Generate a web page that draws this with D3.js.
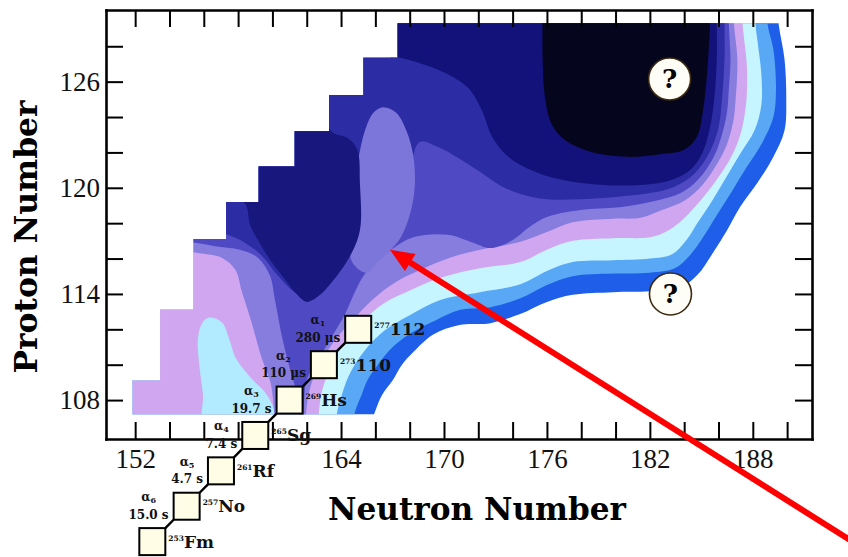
<!DOCTYPE html>
<html>
<head>
<meta charset="utf-8">
<title>Superheavy nuclei map</title>
<script src="https://cdn.jsdelivr.net/npm/d3@7"></script>
<style>
  body { margin: 0; background: #fff; }
  svg { display: block; }
</style>
</head>
<body>
<svg id="chart" width="848" height="557"></svg>
<script>
// ---- values, all as [neutron number, proton number] ----

// calculated region: left edge of each proton row (staircase)
const maskZ = [107.2, 109.1, 113.1, 117.1, 119.2, 121.2, 123.2, 125.25, 127.35, 129.3];
const maskMinN = [151.85, 153.45, 155.4, 157.3, 159.2, 161.3, 163.3, 165.3, 167.3];

// contour edges, outermost first (bottom -> top)
const royalEdge = [[165.7,106.5],[166.0,107.4],[166.4,108.3],[167.0,109.1],[167.55,110.0],[168.2,110.7],[169.35,111.7],[170.9,112.25],[172.7,112.35],[174.4,112.85],[176.0,113.55],[177.5,113.95],[179.85,114.1],[182.0,114.15],[183.75,114.35],[184.75,115.05],[185.7,116.35],[186.5,117.6],[187.25,118.9],[188.25,120.25],[189.2,121.75],[189.85,123.25],[189.95,125.0],[189.85,127.25],[189.5,129.3],[189.4,131]];
const skyEdge = [[164.6,106.5],[164.85,107.45],[165.2,108.3],[165.55,109.15],[166.15,110.0],[166.85,110.85],[168.0,111.75],[169.5,112.5],[170.95,113.1],[172.7,113.25],[174.45,113.75],[176.0,114.5],[177.5,115.0],[179.85,115.15],[182.0,115.2],[183.45,115.45],[184.35,116.2],[185.1,117.2],[185.9,118.45],[186.75,119.75],[187.6,121.1],[188.55,122.55],[189.2,124.0],[189.35,125.55],[189.2,127.8],[188.85,129.3],[188.8,131]];
const cyanEdge = [[163.65,106.5],[163.8,107.45],[164.05,108.3],[164.35,109.15],[164.8,110.0],[165.5,110.95],[166.55,111.95],[168.0,112.8],[169.75,113.65],[172.1,114.1],[174.45,114.55],[176.0,115.3],[177.5,115.8],[179.85,115.9],[182.0,116.0],[183.3,116.25],[184.1,117.0],[184.8,118.05],[185.65,119.3],[186.45,120.6],[187.25,121.9],[188.1,123.25],[188.5,124.7],[188.5,126.4],[188.3,128.1],[188.15,129.3],[188.1,131]];
const pinkEdge = [[162.65,106.5],[162.75,107.7],[162.9,108.55],[163.2,109.4],[163.65,110.4],[164.35,111.4],[165.2,112.4],[166.55,113.5],[168.0,114.2],[169.75,114.9],[172.1,115.45],[174.45,115.8],[176.0,116.5],[177.5,117.0],[179.85,117.15],[182.0,117.2],[182.9,117.5],[183.75,118.05],[184.75,119.05],[185.85,120.4],[186.75,121.75],[187.3,123.1],[187.55,124.3],[187.65,125.25],[187.65,126.95],[187.5,128.35],[187.4,129.3],[187.3,131]];

// light pocket at low N
const cyanPocket = [[156.25,112.65],[157.05,112.4],[157.5,111.4],[157.85,110.4],[158.7,109.3],[159.6,108.4],[160.1,107.45],[160.2,106.5],[156.05,106.5],[155.95,108.3],[155.75,109.85],[155.65,111.4],[155.85,112.25]];

// lavender band: left side (bottom -> top) and right side (top -> bottom)
const lavenderLeft = [[160.15,106.5],[159.9,108.95],[159.35,110.45],[158.75,112.5],[158.2,114.2],[157.85,115.35],[157.05,116.05],[155.75,116.3],[154.6,116.45]];
const lavenderEdge = [[186.9,131],[186.9,129.3],[187.1,127.25],[187.0,125.0],[186.85,123.7],[186.45,122.35],[185.85,121.25],[185.05,120.15],[184.05,119.3],[182.6,118.7],[181.45,118.3],[179.85,118.25],[177.5,118.05],[176.0,117.5],[174.45,116.95],[172.1,116.5],[170.35,116.05],[168.6,115.35],[167.15,114.65],[165.8,113.65],[164.65,112.5],[163.65,111.4],[162.9,110.25],[162.35,109.15],[162.05,108.0],[161.9,106.5]];

// violet band
const violetLeft = [[161.65,106.5],[161.6,107.85],[161.2,109.15],[160.6,111.4],[160.15,113.65],[159.85,115.05],[159.15,116.05],[158.1,116.5],[156.65,116.7],[155.5,116.9],[154.6,116.95]];
const violetEdge = [[186.6,131],[186.6,129.3],[186.7,127.25],[186.6,125.55],[186.5,124.3],[186.2,123.0],[185.7,121.7],[184.8,120.45],[183.8,119.7],[182.3,119.25],[180.25,118.9],[177.95,118.75],[176.0,118.35],[175.0,117.8],[174.0,117.05],[172.7,116.6],[171.7,116.9],[170.2,117.35],[168.2,117.2],[166.85,116.45],[166.05,115.8],[165.4,115.15],[164.8,114.1],[164.25,112.9],[163.35,111.4],[162.65,110.25],[162.0,109.15],[161.85,108.0],[161.8,106.5]];

// dark blue band (runs under the ridge and along the left of the deformed valley)
const darkBlueEdge = [[186.35,131],[186.35,129.3],[186.35,127.25],[186.2,125.0],[186.0,123.4],[185.45,121.95],[184.6,120.8],[183.4,120.05],[182.0,119.7],[179.7,119.45],[177.95,119.35],[176.0,119.35],[174.45,119.65],[173.25,120.15],[172.1,120.9],[170.8,121.7],[169.65,122.3],[168.6,122.6],[168.0,121.0],[167.45,118.75],[166.25,117.05],[164.4,116.35],[163.35,114.8],[162.3,113.75],[161.3,114.1],[160.3,115.05],[159.4,116.15],[158.4,116.9],[157.4,117.35],[156.35,117.6],[155.2,117.85]];

// lighter ridge near N=166
const ridge = [[166.45,124.55],[167.2,124.25],[167.8,123.25],[168.2,121.85],[168.3,120.15],[168.0,118.45],[167.45,117.15],[166.85,116.45],[166.15,115.8],[165.45,115.2],[164.65,115.8],[164.5,117.35],[164.75,119.6],[165.0,121.55],[165.4,123.25],[165.9,124.25]];

// deformed valley near N=162
const deformedValley = [[162.0,113.55],[161.35,114.05],[160.75,114.8],[159.95,115.8],[159.25,116.9],[158.7,117.9],[158.45,119.05],[157.8,119.6],[158.1,122.15],[161.6,123.7],[163.1,123.5],[163.55,123.1],[164.4,122.8],[164.95,122.15],[165.1,120.25],[165.1,117.6],[164.5,116.1],[163.45,114.65],[162.65,113.85]];

// spherical valley: navy rim and black core
const navyEdge = [[166.85,131],[166.85,127.4],[167.45,127.35],[169.95,126.55],[171.4,125.65],[172.2,124.4],[172.8,122.9],[173.75,121.75],[175.6,120.8],[178.7,120.2],[182.0,120.2],[183.3,120.45],[184.35,121.0],[185.05,121.95],[185.5,123.4],[185.75,125.0],[185.9,127.25],[185.9,129.3],[185.9,131]];
const blackEdge = [[175.75,131],[175.75,127.25],[175.9,125.0],[176.3,123.55],[177.05,122.7],[178.5,122.05],[180.65,121.75],[182.6,121.9],[184.0,122.15],[184.75,122.9],[185.1,124.4],[185.35,126.65],[185.5,129.3],[185.5,131]];

// decay chain of 277112
const chainMass = [277, 273, 269, 265, 261, 257, 253];
const chainSymbol = ["112", "110", "Hs", "Sg", "Rf", "No", "Fm"];
const chainN = [165, 163, 161, 159, 157, 155, 153];
const chainZ = [112, 110, 108, 106, 104, 102, 100];
const decayTimes = ["280 μs", "110 μs", "19.7 s", "7.4 s", "4.7 s", "15.0 s"];

// question marks and the red arrow
const questionMarks = [[183.15, 126.15], [183.2, 114.0]];
const arrowTail = [194.3, 99.7];
const arrowTip = [166.85, 116.5];

// axes
const xTicks = d3.range(152, 191, 2);
const yTicks = d3.range(108, 129, 2);
const xLabels = [152, 164, 170, 176, 182, 188];
const yLabels = [108, 114, 120, 126];

// ---- drawing ----
const svg = d3.select("#chart");
const x = d3.scaleLinear().domain([150.3, 191.45]).range([106, 812]);
const y = d3.scaleLinear().domain([105.8, 130.05]).range([439, 10]);

const serifBold = "'DejaVu Serif', serif";
const px = d => x(d[0]), py = d => y(d[1]);
const smooth = d3.line().x(px).y(py).curve(d3.curveCatmullRom.alpha(0.5));
const smoothClosed = d3.line().x(px).y(py).curve(d3.curveCatmullRomClosed.alpha(0.5));
const straight = d3.line().x(px).y(py);

// joins smooth and straight pieces into one closed outline
function regionPath(parts) {
  return parts.map((p, i) => {
    const s = p.curved ? smooth(p.pts) : straight(p.pts);
    return i ? "L" + s.slice(1) : s;
  }).join("") + "Z";
}

const farN = x.domain()[0] - 3, farTop = y.domain()[1] + 3, farBottom = y.domain()[0] - 2;
const leftClose = { pts: [[farN, farTop], [farN, farBottom]], curved: false };
const topClose = edge => ({ pts: [[farN, farTop], [edge[0][0], farTop]], curved: false });

const layers = [
  { color: "#1f5ee8", d: regionPath([{ pts: royalEdge, curved: true }, leftClose]) },
  { color: "#58a8f6", d: regionPath([{ pts: skyEdge, curved: true }, leftClose]) },
  { color: "#c6f5ff", d: regionPath([{ pts: cyanEdge, curved: true }, leftClose]) },
  { color: "#cfa6ef", d: regionPath([{ pts: pinkEdge, curved: true }, leftClose]) },
  { color: "#b2eaff", d: smoothClosed(cyanPocket) },
  { color: "#877ddf", d: regionPath([{ pts: lavenderLeft, curved: true }, topClose(lavenderEdge), { pts: lavenderEdge, curved: true }]) },
  { color: "#4f4ac4", d: regionPath([{ pts: violetLeft, curved: true }, topClose(violetEdge), { pts: violetEdge, curved: true }]) },
  { color: "#2c2ca4", d: regionPath([{ pts: darkBlueEdge, curved: true }, topClose(darkBlueEdge)]) },
  { color: "#7d76da", d: smoothClosed(ridge) },
  { color: "#17177e", d: smoothClosed(deformedValley) },
  { color: "#12127a", d: regionPath([{ pts: navyEdge, curved: true }]) },
  { color: "#05051d", d: regionPath([{ pts: blackEdge, curved: true }]) }
];

// staircase outline of the calculated nuclei
const maskPts = [[x.domain()[1], maskZ[0]]];
maskMinN.forEach((n, i) => maskPts.push([n, maskZ[i]], [n, maskZ[i + 1]]));
maskPts.push([x.domain()[1], maskZ[maskZ.length - 1]]);

svg.append("clipPath").attr("id", "calc-region")
  .append("path").attr("d", straight(maskPts) + "Z");

const map = svg.append("g").attr("clip-path", "url(#calc-region)");
layers.forEach(l => map.append("path").attr("d", l.d).attr("fill", l.color));

// frame with inward ticks
function styleAxis(g) {
  g.select(".domain").attr("stroke", "#000").attr("stroke-width", 2.6).attr("stroke-linecap", "square");
  g.selectAll(".tick line").attr("stroke", "#000").attr("stroke-width", 2);
  g.selectAll(".tick text").attr("fill", "#111");
}
const tickFont = g => g.attr("font-family", "'Liberation Serif', 'Times New Roman', serif").attr("font-size", 27);

svg.append("g").attr("transform", `translate(0,${y.range()[0]})`)
  .call(d3.axisBottom(x).tickValues(xTicks).tickSize(-17).tickSizeOuter(0).tickPadding(10)
    .tickFormat(d => xLabels.includes(d) ? d : ""))
  .call(tickFont).call(styleAxis);
svg.append("g").attr("transform", `translate(0,${y.range()[1]})`)
  .call(d3.axisTop(x).tickValues(xTicks).tickSize(-17).tickSizeOuter(0).tickFormat(""))
  .call(styleAxis);
svg.append("g").attr("transform", `translate(${x.range()[0]},0)`)
  .call(d3.axisLeft(y).tickValues(yTicks).tickSize(-17).tickSizeOuter(0).tickPadding(6)
    .tickFormat(d => yLabels.includes(d) ? d : ""))
  .call(tickFont).call(styleAxis);
svg.append("g").attr("transform", `translate(${x.range()[1]},0)`)
  .call(d3.axisRight(y).tickValues(yTicks).tickSize(-17).tickSizeOuter(0).tickFormat(""))
  .call(styleAxis);

// axis titles
svg.append("text")
  .attr("x", 477).attr("y", 520)
  .attr("text-anchor", "middle")
  .attr("font-family", serifBold).attr("font-weight", "bold").attr("font-size", 31)
  .attr("textLength", 298).attr("lengthAdjust", "spacingAndGlyphs")
  .text("Neutron Number");
svg.append("text")
  .attr("transform", "translate(37,237) rotate(-90)")
  .attr("text-anchor", "middle")
  .attr("font-family", serifBold).attr("font-weight", "bold").attr("font-size", 32)
  .attr("textLength", 273).attr("lengthAdjust", "spacingAndGlyphs")
  .text("Proton Number");

// decay chain
const boxW = 26, boxH = 27;
const chain = chainN.map((n, i) => ({ cx: x(n), cy: y(chainZ[i]), mass: chainMass[i], sym: chainSymbol[i] }));

for (let i = 0; i < chain.length - 1; i++) {
  const a = chain[i], b = chain[i + 1];
  svg.append("line")
    .attr("x1", a.cx - boxW / 2).attr("y1", a.cy + boxH / 2)
    .attr("x2", b.cx + boxW / 2).attr("y2", b.cy - boxH / 2)
    .attr("stroke", "#000").attr("stroke-width", 2.4);
}

chain.forEach(c => {
  svg.append("rect")
    .attr("x", c.cx - boxW / 2).attr("y", c.cy - boxH / 2)
    .attr("width", boxW).attr("height", boxH)
    .attr("fill", "#fffde6").attr("stroke", "#000").attr("stroke-width", 2);

  const lbl = svg.append("text")
    .attr("x", c.cx + boxW / 2 + 3).attr("y", c.cy + 6)
    .attr("font-family", serifBold).attr("font-weight", "bold").attr("fill", "#111");
  lbl.append("tspan").attr("font-size", 7.5).attr("dy", -7).text(c.mass);
  lbl.append("tspan").attr("font-size", 17).attr("dy", 7).text(c.sym);
});

decayTimes.forEach((t, i) => {
  const c = chain[i];
  const right = c.cx - boxW / 2 - 5;
  const time = svg.append("text")
    .attr("x", right).attr("y", c.cy + boxH / 2 - 1)
    .attr("text-anchor", "end")
    .attr("font-family", serifBold).attr("font-weight", "bold").attr("font-size", 12)
    .attr("fill", "#111")
    .text(t);
  const w = time.node().getComputedTextLength();
  const alpha = svg.append("text")
    .attr("x", right - w / 2).attr("y", c.cy - 5)
    .attr("text-anchor", "middle")
    .attr("font-family", serifBold).attr("font-weight", "bold").attr("font-size", 12)
    .attr("fill", "#111");
  alpha.append("tspan").text("α");
  alpha.append("tspan").attr("font-size", 8).attr("dy", 2).text(i + 1);
});

// question marks
questionMarks.forEach(([n, z]) => {
  svg.append("circle")
    .attr("cx", x(n)).attr("cy", y(z)).attr("r", 21)
    .attr("fill", "#fffef6").attr("stroke", "#3b2a12").attr("stroke-width", 1.6);
  svg.append("text")
    .attr("x", x(n)).attr("y", y(z) + 9)
    .attr("text-anchor", "middle")
    .attr("font-family", serifBold).attr("font-weight", "bold").attr("font-size", 26)
    .text("?");
});

// red arrow
const p0 = [x(arrowTail[0]), y(arrowTail[1])];
const p1 = [x(arrowTip[0]), y(arrowTip[1])];
const len = Math.hypot(p1[0] - p0[0], p1[1] - p0[1]);
const ux = (p1[0] - p0[0]) / len, uy = (p1[1] - p0[1]) / len;
const headLen = 24, headHalf = 10;
svg.append("line")
  .attr("x1", p0[0]).attr("y1", p0[1])
  .attr("x2", p1[0] - ux * headLen * 0.8).attr("y2", p1[1] - uy * headLen * 0.8)
  .attr("stroke", "#ff0000").attr("stroke-width", 6);
svg.append("polygon")
  .attr("points", [
    p1,
    [p1[0] - ux * headLen - uy * headHalf, p1[1] - uy * headLen + ux * headHalf],
    [p1[0] - ux * headLen + uy * headHalf, p1[1] - uy * headLen - ux * headHalf]
  ].map(p => p.join(",")).join(" "))
  .attr("fill", "#ff0000");
</script>
</body>
</html>
